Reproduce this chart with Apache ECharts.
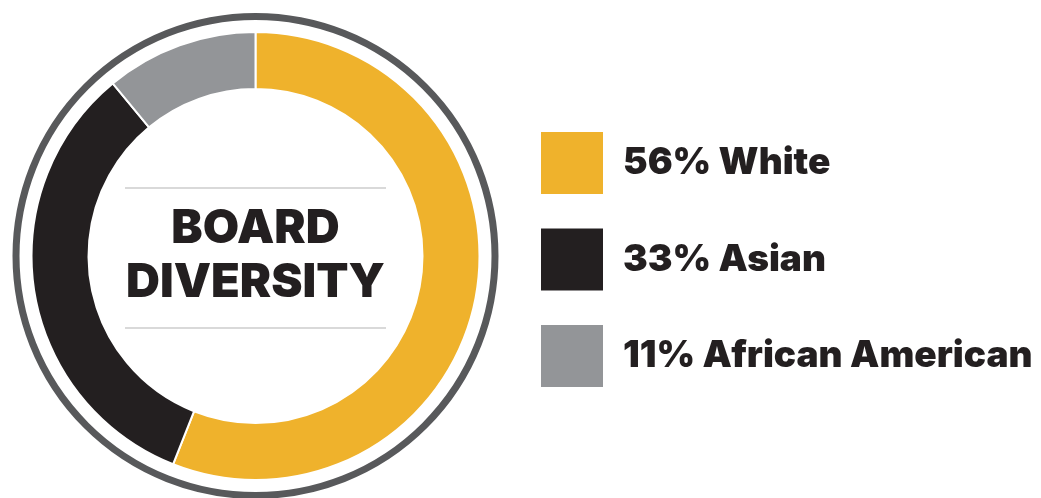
<!DOCTYPE html>
<html>
<head>
<meta charset="utf-8">
<script src="https://cdn.jsdelivr.net/npm/echarts@6/dist/echarts.min.js"></script>
<style>
html,body{margin:0;padding:0;background:#fff;}
#chart{width:1041px;height:498px;}
</style>
</head>
<body>
<div id="chart"></div>
<script>
const categories = ['White', 'Asian', 'African American'];
const values = [56, 33, 11];
const colors = ['#EFB22C', '#231F20', '#939598'];
const centerTitle = 'BOARD\nDIVERSITY';

const FONT = 'Inter';
const chart = echarts.init(document.getElementById('chart'));
chart.setOption({
  backgroundColor: '#ffffff',
  animation: false,
  legend: {
    orient: 'vertical',
    left: 539,
    top: 130,
    padding: 0,
    itemWidth: 64,
    itemHeight: 64,
    itemGap: 30.5,
    icon: 'rect',
    selectedMode: false,
    data: categories,
    formatter: function (name) {
      const i = categories.indexOf(name);
      return values[i] + '% ' + name;
    },
    textStyle: {
      fontFamily: FONT,
      fontWeight: 900,
      fontSize: 37,
      color: '#231F20',
      padding: [0, 0, 6, 14]
    }
  },
  graphic: [
    {
      type: 'circle',
      shape: { cx: 255.5, cy: 256, r: 239.5 },
      style: { fill: 'none', stroke: '#58595B', lineWidth: 7 },
      silent: true
    },
    {
      type: 'line',
      shape: { x1: 125, y1: 188, x2: 386, y2: 188 },
      style: { stroke: '#d9d9d9', lineWidth: 2 },
      silent: true
    },
    {
      type: 'line',
      shape: { x1: 125, y1: 328, x2: 386, y2: 328 },
      style: { stroke: '#d9d9d9', lineWidth: 2 },
      silent: true
    },
    {
      type: 'text',
      x: 255.5,
      y: 256,
      style: {
        text: centerTitle,
        fontFamily: FONT,
        fontWeight: 900,
        fontSize: 47,
        lineHeight: 54,
        fill: '#231F20',
        align: 'center',
        verticalAlign: 'middle'
      },
      silent: true
    }
  ],
  series: [
    {
      type: 'pie',
      center: [255.5, 256],
      radius: [167, 224],
      startAngle: 90,
      clockwise: true,
      silent: true,
      label: { show: false },
      labelLine: { show: false },
      itemStyle: { borderColor: '#ffffff', borderWidth: 2 },
      data: categories.map((c, i) => ({
        name: c,
        value: values[i],
        itemStyle: { color: colors[i] }
      }))
    }
  ]
});
</script>
</body>
</html>
